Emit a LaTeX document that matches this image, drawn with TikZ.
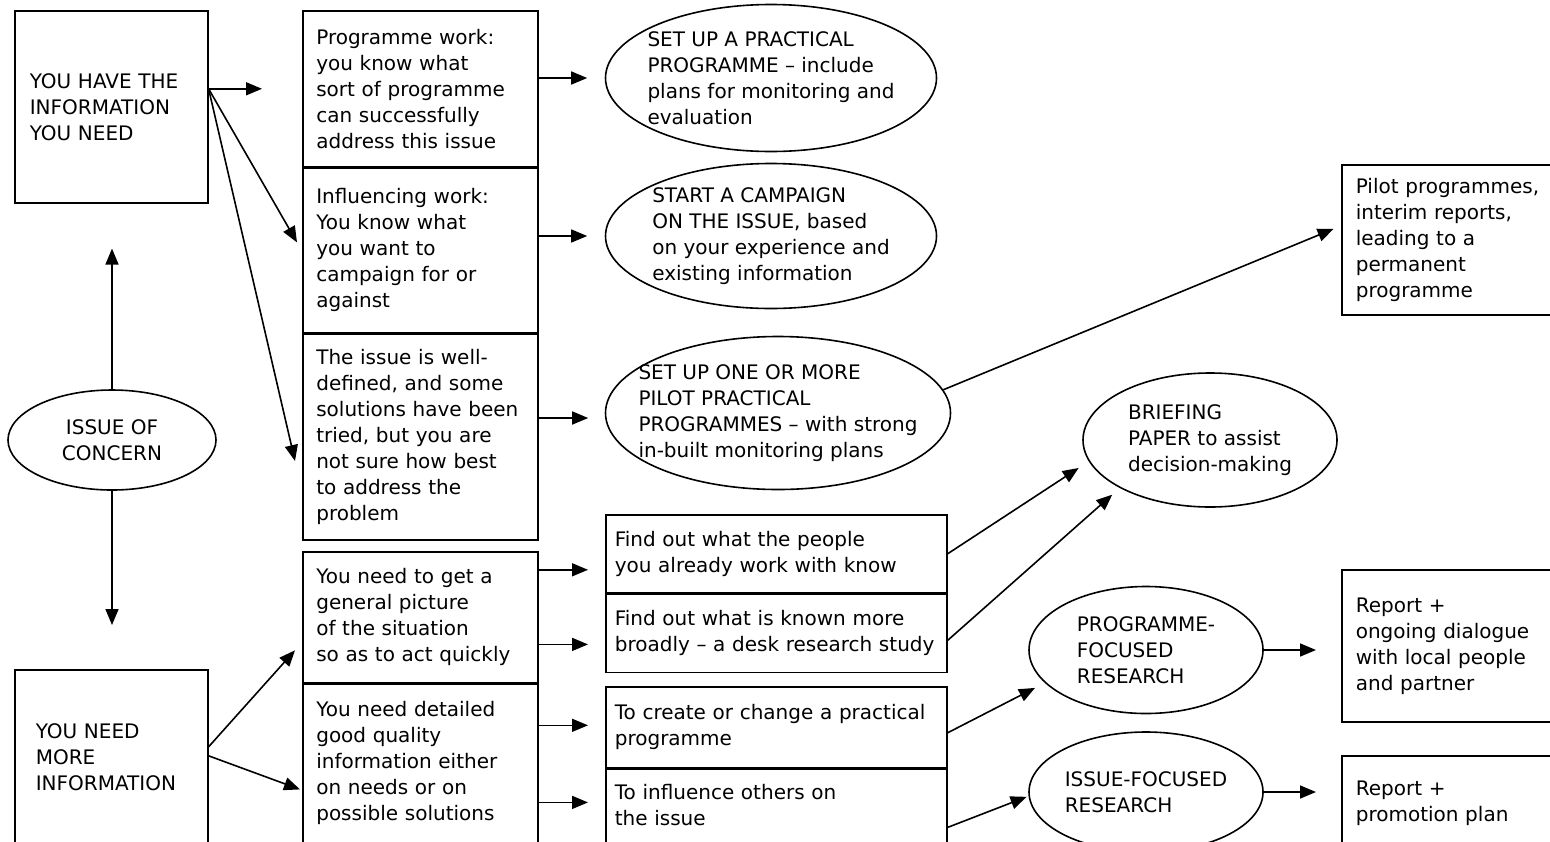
\documentclass[tikz,border=0pt]{standalone}
\usepackage{fontspec}
\setmainfont{DejaVu Sans}
\usetikzlibrary{positioning,shapes.geometric,arrows.meta}

\tikzset{
  box/.style={draw, line width=0.8pt, rectangle, align=left, anchor=north west,
    font=\fontsize{10}{13}\selectfont},
  colmid/.style={box, text width=104pt, inner xsep=6.75pt},
  colright/.style={box, text width=161.5pt, inner xsep=4.5pt},
  side/.style={box, text width=105.5pt, inner xsep=7pt},
  oval/.style={draw, line width=0.8pt, ellipse, align=left, inner xsep=-20pt,
    inner ysep=-10pt, font=\fontsize{10}{13}\selectfont},
  arr/.style={line width=0.8pt, -{Triangle[length=8pt,width=6.5pt]}},
}

\begin{document}
\begin{tikzpicture}[x=0.5pt, y=-0.5pt]
    \path[use as bounding box, clip] (0,0) rectangle (1550,841);

    \node[box, text width=81.5pt, inner xsep=7.5pt, minimum height=96pt] (have) at (14,10)
        {YOU HAVE THE\\INFORMATION\\YOU NEED};
    \node[box, text width=75.5pt, inner xsep=10.5pt, minimum height=100pt] (more) at (14,669)
        {YOU NEED\\MORE\\INFORMATION\\ \mbox{}};
    \node[oval, align=center, minimum width=104pt, minimum height=50pt] (issue) at (112,440)
        {ISSUE OF\\CONCERN};

    \node[colmid, minimum height=78pt] (prog) at (302,10)
        {Programme work:\\you know what\\sort of programme\\can successfully\\address this issue};
    \node[colmid, minimum height=82pt, below=0pt of prog] (infl)
        {Influencing work:\\You know what\\you want to\\campaign for or\\against};
    \node[colmid, minimum height=103pt, below=0pt of infl] (pilot)
        {The issue is well-\\defined, and some\\solutions have been\\tried, but you are\\not sure how best\\to address the\\problem};
    \node[colmid, minimum height=65.5pt] (quick) at (302,551)
        {You need to get a\\general picture\\of the situation\\so as to act quickly};
    \node[colmid, minimum height=89pt, below=0pt of quick] (detail)
        {You need detailed\\good quality\\information either\\on needs or on\\possible solutions\\ \mbox{}};

    \node[oval, minimum width=165.5pt, minimum height=73.5pt] (setup) at (771,78)
        {SET UP A PRACTICAL\\PROGRAMME -- include\\plans for monitoring and\\evaluation};
    \node[oval, minimum width=165.5pt, minimum height=72.5pt] (campaign) at (771,236)
        {START A CAMPAIGN\\ON THE ISSUE, based\\on your experience and\\existing information};
    \node[oval, minimum width=172.5pt, minimum height=76.5pt] (pilots) at (778,413)
        {SET UP ONE OR MORE\\PILOT PRACTICAL\\PROGRAMMES -- with strong\\in-built monitoring plans};

    \node[colright, minimum height=39pt] (ask) at (605,514)
        {Find out what the people\\you already work with know};
    \node[colright, minimum height=39pt, below=0pt of ask] (desk)
        {Find out what is known more\\broadly -- a desk research study};
    \node[colright, minimum height=40.5pt] (create) at (605,686)
        {To create or change a practical\\programme};
    \node[colright, minimum height=48pt, below=0pt of create] (influ)
        {To influence others on\\the issue\\ \mbox{}};

    \node[oval, minimum width=127pt, minimum height=67pt] (briefing) at (1210,440)
        {BRIEFING\\PAPER to assist\\decision-making};
    \node[oval, minimum width=117pt, minimum height=63.5pt] (progres) at (1146,650)
        {PROGRAMME-\\FOCUSED\\RESEARCH};
    \node[oval, minimum width=117pt, minimum height=60pt] (issueres) at (1146,792)
        {ISSUE-FOCUSED\\RESEARCH};

    \node[side, minimum height=75pt] (perm) at (1341,164)
        {Pilot programmes,\\interim reports,\\leading to a\\permanent\\programme};
    \node[side, minimum height=76pt] (dialogue) at (1341,569)
        {Report +\\ongoing dialogue\\with local people\\and partner};
    \node[side, minimum height=58pt] (promo) at (1341,755)
        {Report +\\promotion plan\\ \mbox{}};

    \coordinate (tohave) at (prog.west -| have.east);
    \draw[arr, shorten >=20pt] (tohave) -- (prog.west);
    \draw[arr] (tohave) -- ([xshift=-2.5pt, yshift=4pt]infl.west);
    \draw[arr] (tohave) -- ([xshift=-3.5pt, yshift=-12pt]pilot.west);
    \draw[arr, shorten >=22.5pt] (issue.north) -- (issue.north |- have.south);
    \draw[arr, shorten >=22pt] (issue.south) -- (issue.south |- more.north);
    \draw[arr] ([yshift=11.5pt]more.east) -- ([xshift=-3.5pt, yshift=-16.5pt]quick.west);
    \draw[arr] ([yshift=7pt]more.east) -- ([xshift=-1pt, yshift=-8pt]detail.west);

    \coordinate (a1) at (setup.west);
    \coordinate (a2) at (campaign.west);
    \coordinate (a3) at ([yshift=-2.5pt]pilots.west);
    \draw[arr, shorten >=8.75pt] (a1 -| prog.east) -- (a1);
    \draw[arr, shorten >=8.75pt] (a2 -| infl.east) -- (a2);
    \draw[arr, shorten >=8.25pt] (a3 -| pilot.east) -- (a3);

    \coordinate (a4) at ([yshift=-8pt]ask.west);
    \coordinate (a5) at ([yshift=-5.5pt]desk.west);
    \coordinate (a6) at ([yshift=1pt]create.west);
    \coordinate (a7) at ([yshift=7.5pt]influ.west);
    \draw[arr, shorten >=8.5pt] (a4 -| quick.east) -- (a4);
    \draw[arr, shorten >=8.5pt] (a5 -| quick.east) -- (a5);
    \draw[arr, shorten >=8.5pt] (a6 -| detail.east) -- (a6);
    \draw[arr, shorten >=8.5pt] (a7 -| detail.east) -- (a7);

    \draw[arr, shorten >=6pt] (ask.east) -- (briefing.190);
    \draw[arr, shorten >=5pt] ([yshift=-3.5pt]desk.east) -- (briefing.208);
    \draw[arr, shorten >=4pt] (pilots.8) -- ([yshift=7pt]perm.west);
    \draw[arr, shorten >=5.5pt] ([yshift=-2.75pt]create.east) -- (progres.198);
    \draw[arr, shorten >=1pt] ([yshift=-5pt]influ.east) -- (issueres.182);
    \draw[arr, shorten >=12.5pt] (progres.east) -- (progres.east -| dialogue.west);
    \draw[arr, shorten >=12.5pt] (issueres.east) -- (issueres.east -| promo.west);
\end{tikzpicture}
\end{document}
